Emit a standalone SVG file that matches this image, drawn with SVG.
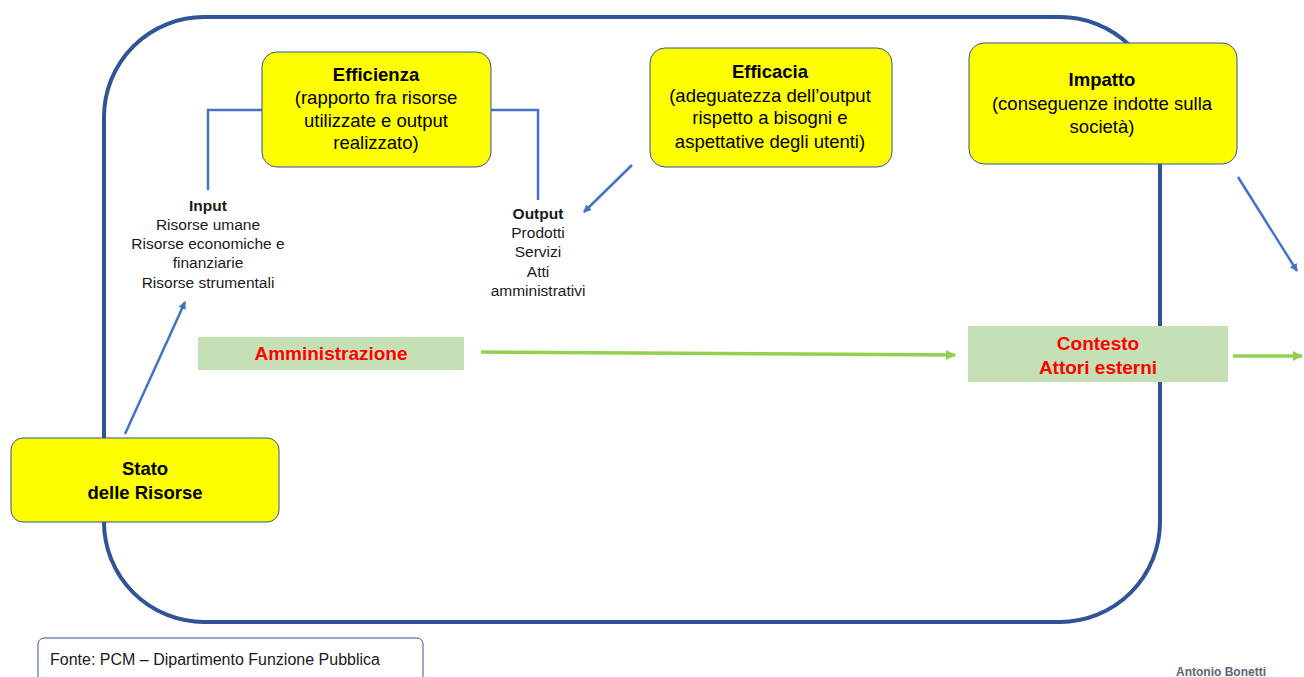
<svg xmlns="http://www.w3.org/2000/svg" width="1304" height="677" viewBox="0 0 1304 677">
<style>
text{font-family:"Liberation Sans",Arial,sans-serif;}
.yb{fill:#FFFF00;stroke:#2F5597;stroke-width:1;}
.gb{fill:#C5E0B4;stroke:none;}
.t{font-size:18.5px;fill:#000;text-anchor:middle;}
.b{font-weight:bold;}
.s{font-size:15.5px;fill:#1a1a1a;text-anchor:middle;}
.r{font-size:19px;fill:#FF0000;font-weight:bold;text-anchor:middle;}
.bl{fill:none;stroke:#4472C4;stroke-width:2.5;}
.gr{fill:none;stroke:#92D050;stroke-width:3.5;}
</style>
<defs>
<marker id="ab" markerWidth="10" markerHeight="10" refX="7" refY="5" orient="auto" markerUnits="userSpaceOnUse"><path d="M0,1 L8,5 L0,9 Z" fill="#4472C4"/></marker>
<marker id="ag" markerWidth="12" markerHeight="12" refX="9" refY="6" orient="auto" markerUnits="userSpaceOnUse"><path d="M0,1 L10,6 L0,11 Z" fill="#92D050"/></marker>
</defs>
<rect width="1304" height="677" fill="#fff"/>
<g id="frame"><rect x="104" y="17" width="1056" height="605" rx="100" ry="100" fill="none" stroke="#2F5597" stroke-width="4"/></g>
<g id="connectors">
<path class="bl" d="M262,110 H208 V190"/>
<path class="bl" d="M491,110 H538 V200"/>
<line class="bl" x1="632" y1="165" x2="584" y2="212" marker-end="url(#ab)"/>
<line class="bl" x1="1238" y1="177" x2="1297" y2="271" marker-end="url(#ab)"/>
<line class="bl" x1="125" y1="434" x2="185" y2="302" marker-end="url(#ab)"/>
<line class="gr" x1="481" y1="352" x2="955" y2="355" marker-end="url(#ag)"/>
<line class="gr" x1="1233" y1="356" x2="1302" y2="356" marker-end="url(#ag)"/>
</g>
<g id="efficienza"><rect class="yb" x="262" y="52" width="229" height="115" rx="15"/>
<text class="t b" x="376" y="81">Efficienza</text>
<text class="t" x="376" y="104">(rapporto fra risorse</text>
<text class="t" x="376" y="127">utilizzate  e output</text>
<text class="t" x="376" y="149">realizzato)</text></g>
<g id="efficacia"><rect class="yb" x="650" y="48" width="242" height="119" rx="15"/>
<text class="t b" x="770" y="78">Efficacia</text>
<text class="t" x="770" y="102">(adeguatezza dell’output</text>
<text class="t" x="770" y="124">rispetto a bisogni e</text>
<text class="t" x="770" y="148">aspettative degli utenti)</text></g>
<g id="impatto"><rect class="yb" x="969" y="43" width="268" height="121" rx="15"/>
<text class="t b" x="1102" y="86">Impatto</text>
<text class="t" x="1102" y="110">(conseguenze indotte sulla</text>
<text class="t" x="1102" y="133">società)</text></g>
<g id="input">
<text class="s b" x="208" y="211" fill="#000">Input</text>
<text class="s" x="208" y="230">Risorse umane</text>
<text class="s" x="208" y="249">Risorse economiche  e</text>
<text class="s" x="208" y="268">finanziarie</text>
<text class="s" x="208" y="288">Risorse strumentali</text></g>
<g id="output">
<text class="s b" x="538" y="219">Output</text>
<text class="s" x="538" y="238">Prodotti</text>
<text class="s" x="538" y="257">Servizi</text>
<text class="s" x="538" y="277">Atti</text>
<text class="s" x="538" y="296">amministrativi</text></g>
<g id="amministrazione"><rect class="gb" x="198" y="337" width="266" height="33"/>
<text class="r" x="331" y="360">Amministrazione</text></g>
<g id="contesto"><rect class="gb" x="968" y="326" width="260" height="56"/>
<text class="r" x="1098" y="350">Contesto</text>
<text class="r" x="1098" y="374">Attori esterni</text></g>
<g id="stato"><rect class="yb" x="11" y="438" width="268" height="84" rx="12"/>
<text class="t b" x="145" y="475" font-size="20">Stato</text>
<text class="t b" x="145" y="499" font-size="20">delle Risorse</text></g>
<g id="fonte"><rect x="38" y="638" width="385" height="50" rx="6" fill="#fff" stroke="#2F5597" stroke-width="1"/>
<text x="50" y="665" font-size="16" fill="#1a1a1a">Fonte: PCM – Dipartimento Funzione  Pubblica</text></g>
<g id="author"><text x="1266" y="676" font-size="12" font-weight="bold" fill="#5a6577" text-anchor="end">Antonio  Bonetti</text></g>
</svg>
